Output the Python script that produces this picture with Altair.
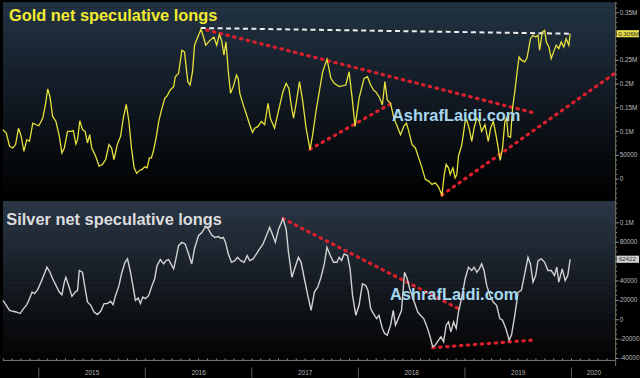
import altair as alt
import pandas as pd

# ---------------- data (time in decimal years) ----------------
gold_t = [2014.664, 2014.695, 2014.726, 2014.757, 2014.782, 2014.810, 2014.835, 2014.860, 2014.888, 2014.913,
          2014.944, 2014.975, 2015.000, 2015.037, 2015.062, 2015.084, 2015.105, 2015.130, 2015.161, 2015.193,
          2015.217, 2015.240, 2015.270, 2015.301, 2015.324, 2015.348, 2015.364, 2015.385, 2015.410, 2015.435,
          2015.457, 2015.478, 2015.497, 2015.534, 2015.566, 2015.597, 2015.628, 2015.659, 2015.683, 2015.706,
          2015.737, 2015.768, 2015.793, 2015.821, 2015.846, 2015.870, 2015.895, 2015.920, 2015.945, 2015.970,
          2015.995, 2016.017, 2016.038, 2016.057, 2016.079, 2016.101, 2016.126, 2016.150, 2016.182, 2016.206,
          2016.234, 2016.266, 2016.281, 2016.312, 2016.343, 2016.368, 2016.399, 2016.420, 2016.443, 2016.462,
          2016.499, 2016.523, 2016.546, 2016.567, 2016.607, 2016.644, 2016.670, 2016.695, 2016.716, 2016.738,
          2016.757, 2016.779, 2016.800, 2016.825, 2016.856, 2016.872, 2016.887, 2016.919, 2016.950, 2016.980,
          2017.006, 2017.027, 2017.058, 2017.089, 2017.120, 2017.152, 2017.173, 2017.213, 2017.245, 2017.292,
          2017.322, 2017.348, 2017.369, 2017.391, 2017.416, 2017.447, 2017.478, 2017.509, 2017.546, 2017.571,
          2017.602, 2017.633, 2017.665, 2017.705, 2017.742, 2017.773, 2017.820, 2017.882, 2017.913, 2017.945,
          2017.969, 2018.006, 2018.053, 2018.085, 2018.115, 2018.141, 2018.162, 2018.193, 2018.225, 2018.249,
          2018.271, 2018.302, 2018.333, 2018.365, 2018.395, 2018.426, 2018.451, 2018.473, 2018.504, 2018.535,
          2018.566, 2018.597, 2018.628, 2018.659, 2018.691, 2018.722, 2018.753, 2018.784, 2018.806, 2018.824,
          2018.846, 2018.862, 2018.887, 2018.908, 2018.924, 2018.939, 2018.971, 2019.002, 2019.017, 2019.042,
          2019.064, 2019.086, 2019.111, 2019.135, 2019.157, 2019.172, 2019.188, 2019.219, 2019.241, 2019.266,
          2019.291, 2019.312, 2019.331, 2019.353, 2019.375, 2019.391, 2019.406, 2019.428, 2019.447, 2019.468,
          2019.490, 2019.508, 2019.530, 2019.561, 2019.583, 2019.615, 2019.639, 2019.664, 2019.686, 2019.701,
          2019.726, 2019.748, 2019.764, 2019.788, 2019.810, 2019.832, 2019.857, 2019.881, 2019.904, 2019.928,
          2019.950, 2019.975, 2019.988]
gold_v = [104000, 97000, 69000, 65500, 72600, 107000, 90000, 58600, 83000, 79500,
          117800, 114400, 112300, 128000, 156000, 189700, 173600, 131800, 121300, 90000,
          55000, 65500, 100400, 100400, 101900, 73800, 83000, 122800, 104000, 100400,
          76000, 93500, 65500, 48000, 27200, 30800, 41200, 72600, 65500, 41200,
          72600, 90000, 128000, 157500, 121300, 65500, 23600, 11900, 18200, 20300,
          25700, 23600, 44600, 44600, 62100, 86400, 121300, 143700, 170000, 175700,
          187700, 194600, 215500, 222400, 271300, 267800, 205000, 198000, 226000, 281800,
          302700, 315300, 299000, 281800, 292000, 299000, 281800, 304000, 292000, 260900,
          288700, 226000, 180500, 194600, 219000, 212000, 180500, 156300, 135400, 114400,
          98300, 107300, 110900, 121300, 114400, 159600, 128200, 107300, 138700, 184000,
          201500, 191000, 156300, 128200, 159600, 205000, 163200, 107300, 62100, 93500,
          142300, 184000, 226000, 252500, 212000, 201500, 194600, 198000, 226000, 163200,
          110900, 170000, 212000, 215500, 198000, 187700, 184000, 173600, 156300, 205000,
          166700, 159600, 128200, 110900, 93500, 110900, 117800, 100400, 72600, 65500,
          44600, 23600, -600, -4200, -11100, -7700, -16700, -33500, 9800, 30800,
          23600, 9800, 23600, 2700, 9800, 48100, 72600, 121300, 124900, 104000,
          79500, 107300, 128200, 121300, 100400, 107300, 114400, 79500, 107300, 121300,
          93500, 65500, 39100, 65500, 121300, 128200, 90000, 87900, 149200, 184000,
          226000, 257300, 250400, 246900, 255200, 295600, 302700, 299000, 302700, 271300,
          309600, 313200, 288700, 278200, 253800, 267800, 281800, 274700, 288700, 278200,
          295600, 281800, 306000]

silver_t = [2014.664, 2014.695, 2014.726, 2014.757, 2014.788, 2014.825, 2014.857, 2014.888, 2014.913, 2014.937,
            2014.960, 2014.991, 2015.021, 2015.053, 2015.077, 2015.105, 2015.130, 2015.161, 2015.193, 2015.217,
            2015.240, 2015.254, 2015.280, 2015.311, 2015.342, 2015.364, 2015.380, 2015.410, 2015.435, 2015.457,
            2015.488, 2015.519, 2015.550, 2015.581, 2015.613, 2015.643, 2015.674, 2015.697, 2015.721, 2015.753,
            2015.777, 2015.809, 2015.833, 2015.861, 2015.886, 2015.907, 2015.933, 2015.954, 2015.976, 2016.001,
            2016.032, 2016.063, 2016.088, 2016.110, 2016.141, 2016.172, 2016.194, 2016.219, 2016.240, 2016.266,
            2016.287, 2016.312, 2016.343, 2016.374, 2016.406, 2016.436, 2016.461, 2016.499, 2016.530, 2016.567,
            2016.592, 2016.623, 2016.654, 2016.685, 2016.710, 2016.732, 2016.753, 2016.779, 2016.809, 2016.840,
            2016.865, 2016.896, 2016.928, 2016.956, 2016.980, 2017.012, 2017.043, 2017.073, 2017.105, 2017.136,
            2017.167, 2017.198, 2017.220, 2017.251, 2017.292, 2017.322, 2017.344, 2017.376, 2017.406, 2017.437,
            2017.462, 2017.493, 2017.525, 2017.556, 2017.587, 2017.618, 2017.649, 2017.680, 2017.705, 2017.736,
            2017.767, 2017.798, 2017.820, 2017.842, 2017.866, 2017.898, 2017.922, 2017.945, 2017.976, 2018.006,
            2018.038, 2018.069, 2018.090, 2018.115, 2018.141, 2018.171, 2018.193, 2018.225, 2018.246, 2018.271,
            2018.302, 2018.327, 2018.348, 2018.380, 2018.405, 2018.433, 2018.458, 2018.482, 2018.504, 2018.535,
            2018.557, 2018.582, 2018.613, 2018.638, 2018.669, 2018.697, 2018.722, 2018.753, 2018.775, 2018.800,
            2018.824, 2018.846, 2018.868, 2018.893, 2018.918, 2018.939, 2018.971, 2019.002, 2019.033, 2019.064,
            2019.086, 2019.111, 2019.135, 2019.157, 2019.179, 2019.204, 2019.235, 2019.266, 2019.297, 2019.328,
            2019.353, 2019.384, 2019.415, 2019.437, 2019.468, 2019.499, 2019.530, 2019.561, 2019.592, 2019.615,
            2019.639, 2019.664, 2019.686, 2019.717, 2019.748, 2019.779, 2019.810, 2019.841, 2019.862, 2019.881,
            2019.913, 2019.941, 2019.965, 2019.988]
silver_v = [20000, 14900, 9700, 8700, 8000, 6400, 11500, 15600, 21700, 28500,
            26900, 31300, 38800, 47400, 54200, 49000, 42300, 35400, 28500, 25800,
            38800, 43900, 35400, 24100, 28500, 30300, 50800, 49000, 32000, 18300,
            14900, 8000, 5300, 8700, 16600, 16600, 19000, 15600, 25100, 35400,
            47400, 59300, 62800, 49000, 33600, 20000, 22400, 16600, 23400, 21700,
            25100, 35400, 42300, 55900, 62100, 57600, 61000, 62100, 57600, 52500,
            62800, 76400, 79800, 78200, 67900, 57600, 73000, 86700, 90000, 96200,
            93500, 87400, 84900, 85900, 83900, 84900, 79800, 67900, 59300, 61000,
            64400, 61000, 59300, 66200, 61000, 62800, 67900, 73000, 78200, 86700,
            95200, 86700, 79800, 93500, 104400, 93500, 69500, 43900, 54200, 64400,
            59300, 42300, 25100, 9700, 28500, 33600, 43900, 57600, 74700, 66200,
            59300, 59300, 64400, 61000, 67900, 66200, 52500, 25100, 4600, 14900,
            37100, 35400, 30300, 11500, 6400, 1200, 4600, -9000, -14200, -15900,
            -5600, 9700, -5600, 2900, 9700, 49000, 42300, 32000, 25100, 14900,
            8000, 4600, 1200, -5600, -15900, -27900, -26200, -21000, -17600, -22800,
            -5600, -2300, -12500, -2300, -9000, 8000, 23400, 42300, 54200, 50800,
            54200, 49000, 52500, 57600, 50800, 35400, 25100, 18300, 14900, 1200,
            -500, -9000, -21000, -15900, 4600, 28500, 30300, 47400, 64400, 57600,
            38800, 45600, 61000, 62800, 59300, 50800, 50800, 45600, 54200, 38800,
            52500, 40500, 45600, 62422]

# trend lines (start/end in data units)
gold_red_t1 = [2016.576, 2017.546, 2018.784]
gold_red_t2 = [2019.673, 2018.311, 2020.401]
gold_red_v1 = [313800, 62800, -33500]
gold_red_v2 = [138000, 159600, 221800]
gold_res_t = [2016.520, 2019.990]
gold_res_v = [318000, 306000]
silver_red_t1 = [2017.292, 2018.697]
silver_red_t2 = [2018.939, 2019.639]
silver_red_v1 = [104400, -28900]
silver_red_v2 = [11500, -21000]

year_labels = ["2015", "2016", "2017", "2018", "2019", "2020"]
year_label_pos = [2015.5, 2016.5, 2017.5, 2018.5, 2019.5, 2020.21]
year_starts = [2015, 2016, 2017, 2018, 2019, 2020]

gold_ticks = [0, 50000, 100000, 150000, 200000, 250000, 300000, 350000]
silver_ticks = [-40000, -20000, 0, 20000, 40000, 60000, 80000, 100000]

gold_last_label = "0.306M"
silver_last_label = "62422"

# ---------------- layout / style ----------------
X_DOMAIN = [2014.664, 2020.41]
GOLD_DOMAIN = [-46000, 372400]
SILVER_DOMAIN = [-41500, 122600]
W = 616
TOP_H, SPLIT, BOT = 200, 200, 360      # pixel rows of the two panels
FONT = "Liberation Sans"
RED = "#d9202c"
LAB = "#bdbdbd"

xs = alt.Scale(domain=X_DOMAIN, nice=False, zero=False)


def gscale():
    return alt.Scale(domain=GOLD_DOMAIN, range=[TOP_H, 0], nice=False, zero=False)


def sscale():
    return alt.Scale(domain=SILVER_DOMAIN, range=[BOT, SPLIT], nice=False, zero=False)


def X(f):
    return alt.X(f, scale=xs, axis=None)


def GY(f):
    return alt.Y(f, scale=gscale(), axis=None)


def SY(f):
    return alt.Y(f, scale=sscale(), axis=None)


def fmt(v):
    return f"{v / 1e6:g}M" if abs(v) >= 100000 else str(v)


def hex2rgb(h):
    return [int(h[i:i + 2], 16) for i in (1, 3, 5)]


def bands(top, bottom, y0, y1, nb=40):
    a, b = hex2rgb(top), hex2rgb(bottom)
    rows = []
    for i in range(nb):
        f = i / (nb - 1)
        c = "#%02x%02x%02x" % tuple(round(a[k] + (b[k] - a[k]) * f) for k in range(3))
        rows.append({"y0": y0 + (y1 - y0) * i / nb, "y1": y0 + (y1 - y0) * (i + 1) / nb + 0.4, "c": c})
    return rows


n = min(len(gold_t), len(gold_v))
gold_df = pd.DataFrame({"t": gold_t[:n], "v": gold_v[:n]})
n = min(len(silver_t), len(silver_v))
silver_df = pd.DataFrame({"t": silver_t[:n], "v": silver_v[:n]})

G_HALF, S_HALF = 7500, 3700
g_lastv = float(gold_df.v.iloc[-1])
s_lastv = float(silver_df.v.iloc[-1])

layers = []

# background gradients
bg_df = pd.DataFrame(bands("#223243", "#000000", 0, TOP_H) + bands("#2a3645", "#030303", SPLIT, BOT, 32))
layers.append(alt.Chart(bg_df).mark_rect(strokeWidth=0).encode(
    x=alt.value(0), x2=alt.value(W),
    y=alt.Y("y0:Q", scale=None, axis=None), y2="y1:Q",
    color=alt.Color("c:N", scale=None, legend=None)))

# ---- gold panel ----
layers.append(alt.Chart(pd.DataFrame({"t": [2014.720], "v": [326800], "s": ["Gold net speculative longs"]}))
              .mark_text(align="left", baseline="bottom", font=FONT, fontSize=16.5, fontWeight="bold",
                         color="#f1ea2f")
              .encode(x=X("t:Q"), y=GY("v:Q"), text="s:N"))
layers.append(alt.Chart(pd.DataFrame({"t": gold_res_t, "v": gold_res_v}))
              .mark_line(color="#eeeeee", strokeWidth=2, strokeDash=[5, 3.5])
              .encode(x=X("t:Q"), y=GY("v:Q")))
layers.append(alt.Chart(pd.DataFrame({"t1": gold_red_t1, "t2": gold_red_t2, "v1": gold_red_v1, "v2": gold_red_v2}))
              .mark_rule(color=RED, strokeWidth=3.2, strokeDash=[1.5, 5.5], strokeCap="round")
              .encode(x=X("t1:Q"), x2="t2:Q", y=GY("v1:Q"), y2="v2:Q"))
layers.append(alt.Chart(gold_df).mark_line(color="#e8e23c", strokeWidth=1.3)
              .encode(x=X("t:Q"), y=GY("v:Q")))
layers.append(alt.Chart(pd.DataFrame({"t": [2018.918], "v": [131800], "s": ["AshrafLaidi.com"]}))
              .mark_text(align="center", baseline="middle", font=FONT, fontSize=16.5, fontWeight="bold",
                         color="#a6d8f0")
              .encode(x=X("t:Q"), y=GY("v:Q"), text="s:N"))

# ---- silver panel ----
layers.append(alt.Chart(pd.DataFrame({"t": [2014.695], "v": [94400], "s": ["Silver net speculative longs"]}))
              .mark_text(align="left", baseline="bottom", font=FONT, fontSize=16.5, fontWeight="bold",
                         color="#dcdcdc")
              .encode(x=X("t:Q"), y=SY("v:Q"), text="s:N"))
layers.append(alt.Chart(pd.DataFrame({"t1": silver_red_t1, "t2": silver_red_t2,
                                      "v1": silver_red_v1, "v2": silver_red_v2}))
              .mark_rule(color=RED, strokeWidth=3.2, strokeDash=[1.5, 5.5], strokeCap="round")
              .encode(x=X("t1:Q"), x2="t2:Q", y=SY("v1:Q"), y2="v2:Q"))
layers.append(alt.Chart(silver_df).mark_line(color="#d2d2d2", strokeWidth=1.4)
              .encode(x=X("t:Q"), y=SY("v:Q")))
layers.append(alt.Chart(pd.DataFrame({"t": [2018.899], "v": [25100], "s": ["AshrafLaidi.com"]}))
              .mark_text(align="center", baseline="middle", font=FONT, fontSize=16.5, fontWeight="bold",
                         color="#a6d8f0")
              .encode(x=X("t:Q"), y=SY("v:Q"), text="s:N"))

# ---- right-hand value axes ----
layers.append(alt.Chart(pd.DataFrame({"k": [0]})).mark_rule(color="#77745e", strokeWidth=1).encode(
    x=alt.value(W + 0.5), y=alt.value(0), y2=alt.value(BOT + 6)))

for ticks, hide, half, Y, minor_step in ((gold_ticks, g_lastv, 2 * G_HALF, GY, 10000),
                                         (silver_ticks, s_lastv, 2 * S_HALF, SY, 5000)):
    dom = GOLD_DOMAIN if Y is GY else SILVER_DOMAIN
    minor = [m for m in range(-40000, int(dom[1]), minor_step) if m not in ticks and m > dom[0]]
    layers.append(alt.Chart(pd.DataFrame({"m": minor})).mark_rule(color="#7a7a7a", strokeWidth=1).encode(
        y=Y("m:Q"), x=alt.value(W), x2=alt.value(W + 2)))
    layers.append(alt.Chart(pd.DataFrame({"m": ticks})).mark_rule(color="#9a9a9a", strokeWidth=1).encode(
        y=Y("m:Q"), x=alt.value(W), x2=alt.value(W + 3.5)))
    lab = pd.DataFrame({"m": [m for m in ticks if abs(m - hide) > half],
                        "s": [fmt(m) for m in ticks if abs(m - hide) > half]})
    layers.append(alt.Chart(lab).mark_text(align="left", baseline="middle", font=FONT, fontSize=6.4,
                                           color=LAB).encode(
        y=Y("m:Q"), x=alt.value(W + 4.5), text="s:N"))

# last-value boxes
g_last = pd.DataFrame({"lo": [g_lastv - G_HALF], "hi": [g_lastv + G_HALF], "v": [g_lastv], "s": [gold_last_label]})
layers.append(alt.Chart(g_last).mark_rect(color="#e8e04a").encode(
    x=alt.value(W + 1.5), x2=alt.value(640), y=GY("lo:Q"), y2="hi:Q"))
layers.append(alt.Chart(g_last).mark_text(align="left", baseline="middle", font=FONT, fontSize=6.3,
                                          color="#222222").encode(
    x=alt.value(W + 3), y=GY("v:Q"), text="s:N"))
s_last = pd.DataFrame({"lo": [s_lastv - S_HALF], "hi": [s_lastv + S_HALF], "v": [s_lastv], "s": [silver_last_label]})
layers.append(alt.Chart(s_last).mark_rect(color="#cfcfcf").encode(
    x=alt.value(W + 1.5), x2=alt.value(640), y=SY("lo:Q"), y2="hi:Q"))
layers.append(alt.Chart(s_last).mark_text(align="left", baseline="middle", font=FONT, fontSize=6.3,
                                          color="#333333").encode(
    x=alt.value(W + 3.5), y=SY("v:Q"), text="s:N"))

# ---- time axis ----
month_ticks = [round(y + m / 12, 4) for y in range(2014, 2021) for m in range(12)
               if X_DOMAIN[0] <= y + m / 12 <= X_DOMAIN[1]]
layers.append(alt.Chart(pd.DataFrame({"k": [0]})).mark_rule(color="#7a7a7a", strokeWidth=1).encode(
    x=alt.value(0), x2=alt.value(W), y=alt.value(BOT + 0.5)))
layers.append(alt.Chart(pd.DataFrame({"t": month_ticks})).mark_rule(color="#8a8a8a", strokeWidth=1).encode(
    x=X("t:Q"), y=alt.value(BOT - 1.5), y2=alt.value(BOT + 0.5)))
layers.append(alt.Chart(pd.DataFrame({"t": year_starts})).mark_rule(color="#5c5c5c", strokeWidth=1).encode(
    x=X("t:Q"), y=alt.value(BOT + 7.5), y2=alt.value(BOT + 18)))
layers.append(alt.Chart(pd.DataFrame({"t": year_label_pos, "s": year_labels}))
              .mark_text(align="center", baseline="middle", font=FONT, fontSize=6.5, color="#b4b4b4")
              .encode(x=X("t:Q"), y=alt.value(BOT + 13.5), text="s:N"))

chart = alt.layer(*layers).resolve_scale(y="independent").properties(
    width=W, height=BOT, padding=0, background="#000000").configure_view(strokeWidth=0)

chart.save("out.html", embed_options={"renderer": "svg", "actions": False})
